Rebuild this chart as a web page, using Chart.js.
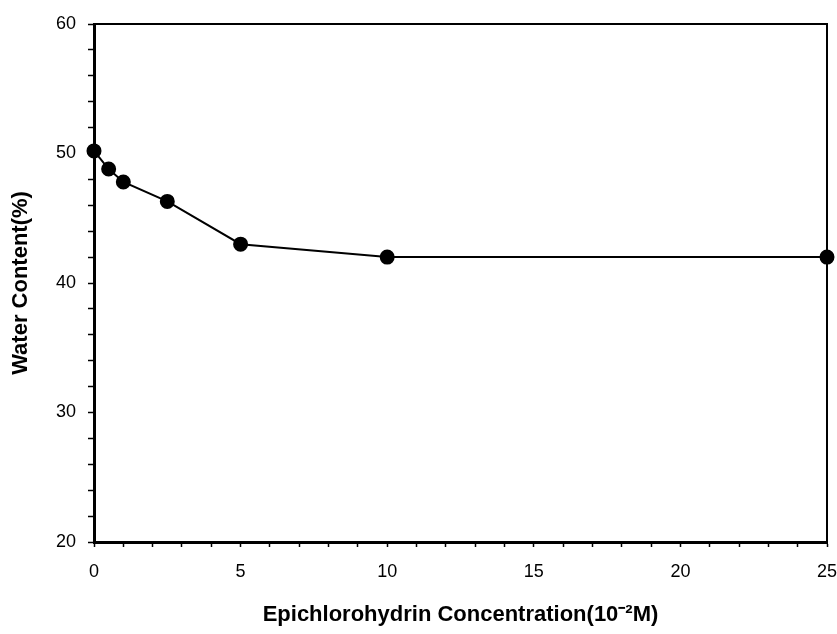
<!DOCTYPE html>
<html>
<head>
<meta charset="utf-8">
<script src="https://cdn.jsdelivr.net/npm/chart.js@4"></script>
<style>
  html, body { margin: 0; padding: 0; background: #fff; }
  #wrap { width: 837px; height: 634px; }
</style>
</head>
<body>
<div id="wrap"><canvas id="waterChart" width="837" height="634"></canvas></div>
<script>
// Water content vs epichlorohydrin concentration
var concentration = [0, 0.5, 1, 2.5, 5, 10, 25];
var waterContent = [50.2, 48.8, 47.8, 46.3, 43.0, 42.0, 42.0];

var xTitle = 'Epichlorohydrin Concentration(10\u207B\u00B2M)';
var yTitle = 'Water Content(%)';

var points = concentration.map(function (c, i) {
    return { x: c, y: waterContent[i] };
});

var fontFamily = '"Liberation Sans", Arial, Helvetica, sans-serif';

var ctx = document.getElementById('waterChart').getContext('2d');
var waterChart = new Chart(ctx, {
    type: 'scatter',
    data: {
        datasets: [{
            label: 'Water Content',
            data: points,
            showLine: true,
            borderColor: '#000',
            backgroundColor: '#000',
            borderWidth: 2,
            pointRadius: 6.5,
            pointHoverRadius: 6.5,
            clip: false
        }]
    },
    options: {
        responsive: false,
        animation: false,
        layout: { padding: { top: 24, right: 10, left: 0, bottom: 0 } },
        plugins: {
            legend: { display: false },
            tooltip: { enabled: false }
        },
        scales: {
            x: {
                type: 'linear',
                min: 0,
                max: 25,
                // fixed height, and no extra room for the last label
                afterFit: function (scale) {
                    scale.height = 92;
                    scale.paddingLeft = 0;
                    scale.paddingRight = 0;
                },
                border: { display: true, color: '#000', width: 3 },
                grid: { drawOnChartArea: false, drawTicks: true, tickLength: 5, tickColor: '#000', tickWidth: 1.5 },
                ticks: {
                    stepSize: 1,
                    autoSkip: false,
                    maxRotation: 0,
                    padding: 14,
                    color: '#000',
                    font: { family: fontFamily, size: 18 },
                    callback: function (v) { return v % 5 === 0 ? v : ''; }
                },
                title: {
                    display: true,
                    text: xTitle,
                    color: '#000',
                    font: { family: fontFamily, size: 22, weight: 'bold' },
                    padding: { top: 0, bottom: 6 }
                }
            },
            y: {
                type: 'linear',
                min: 20,
                max: 60,
                afterFit: function (scale) { scale.width = 94; },
                border: { display: true, color: '#000', width: 3 },
                grid: { drawOnChartArea: false, drawTicks: true, tickLength: 6, tickColor: '#000', tickWidth: 1.5 },
                ticks: {
                    stepSize: 2,
                    autoSkip: false,
                    padding: 12,
                    color: '#000',
                    font: { family: fontFamily, size: 18 },
                    callback: function (v) { return v % 10 === 0 ? v : ''; }
                },
                title: {
                    display: true,
                    text: yTitle,
                    color: '#000',
                    font: { family: fontFamily, size: 22, weight: 'bold' },
                    padding: { top: 8, bottom: 0 }
                }
            },
            xTop: {
                type: 'linear',
                position: 'top',
                min: 0,
                max: 25,
                afterFit: function (scale) { scale.height = 0; },
                border: { display: true, color: '#000', width: 2 },
                grid: { display: false },
                ticks: { display: false }
            },
            yRight: {
                type: 'linear',
                position: 'right',
                min: 20,
                max: 60,
                afterFit: function (scale) { scale.width = 0; },
                border: { display: true, color: '#000', width: 2 },
                grid: { display: false },
                ticks: { display: false }
            }
        }
    }
});
</script>
</body>
</html>
